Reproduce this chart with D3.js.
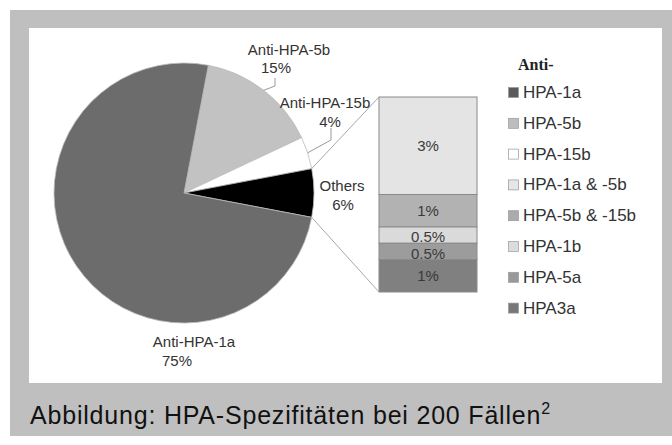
<!DOCTYPE html>
<html>
<head>
<meta charset="utf-8">
<script src="https://cdn.jsdelivr.net/npm/d3@7"></script>
<style>
  body { margin: 0; background: #fff; }
  text { font-family: "Liberation Sans", Arial, sans-serif; }
</style>
</head>
<body>
<div id="chart"></div>
<script>
// Pie slices (clockwise, starting next to the "Others" wedge)
const pieLabels = ["Anti-HPA-5b", "Anti-HPA-15b", "Others", "Anti-HPA-1a"];
const pieValues = [15, 4, 6, 75];
const pieColors = ["#c2c2c2", "#ffffff", "#000000", "#6c6c6c"];

// Breakdown of "Others" (top to bottom in the bar)
const barLabels = ["HPA-1a & -5b", "HPA-5b & -15b", "HPA-1b", "HPA-5a", "HPA3a"];
const barValues = [3, 1, 0.5, 0.5, 1];
const barTexts = ["3%", "1%", "0.5%", "0.5%", "1%"];
const barColors = ["#e4e4e4", "#b2b2b2", "#dadada", "#9c9c9c", "#808080"];

// Legend
const legendTitle = "Anti-";
const legendLabels = ["HPA-1a", "HPA-5b", "HPA-15b", "HPA-1a & -5b", "HPA-5b & -15b", "HPA-1b", "HPA-5a", "HPA3a"];
const legendColors = ["#5a5a5a", "#bdbdbd", "#ffffff", "#e6e6e6", "#ababab", "#dcdcdc", "#999999", "#777777"];

const caption = "Abbildung: HPA-Spezifitäten bei 200 Fällen";

const width = 672, height = 445;

const svg = d3.select("#chart").append("svg")
    .attr("width", width)
    .attr("height", height);

// frame
svg.append("rect").attr("x", 10).attr("y", 10).attr("width", 662).attr("height", 426).attr("fill", "#bfbfbf");
svg.append("rect").attr("x", 29).attr("y", 28).attr("width", 633).attr("height", 355).attr("fill", "#fff");

// pie setup
const cx = 184, cy = 193, r = 130;
const deg = Math.PI / 180;
const total = d3.sum(pieValues);
const othersIdx = pieLabels.indexOf("Others");
// rotate so the "Others" wedge is centred on 3 o'clock
const before = d3.sum(pieValues.slice(0, othersIdx)) + pieValues[othersIdx] / 2;
const start = 90 * deg - before / total * 2 * Math.PI;

const pie = d3.pie().sort(null).startAngle(start).endAngle(start + 2 * Math.PI);
const arcs = pie(pieValues);
const arc = d3.arc().innerRadius(0).outerRadius(r);

const g = svg.append("g").attr("transform", `translate(${cx},${cy})`);
g.selectAll("path")
    .data(arcs)
    .enter().append("path")
    .attr("d", arc)
    .attr("fill", (d, i) => pieColors[i])
    .attr("stroke", "#bbb")
    .attr("stroke-width", 0.8);

function edge(a, rad) {
    return [cx + rad * Math.sin(a), cy - rad * Math.cos(a)];
}

// stacked bar for "Others"
const barX = 379, barW = 98;
const y = d3.scaleLinear().domain([0, d3.sum(barValues)]).range([97, 292]);
const cum = d3.cumsum([0].concat(barValues));

svg.append("g").selectAll("rect")
    .data(barValues)
    .enter().append("rect")
    .attr("x", barX)
    .attr("y", (d, i) => y(cum[i]))
    .attr("width", barW)
    .attr("height", (d, i) => y(cum[i + 1]) - y(cum[i]))
    .attr("fill", (d, i) => barColors[i])
    .attr("stroke", "#8a8a8a")
    .attr("stroke-width", 1);

svg.append("g").selectAll("text")
    .data(barValues)
    .enter().append("text")
    .attr("x", barX + barW / 2)
    .attr("y", (d, i) => (y(cum[i]) + y(cum[i + 1])) / 2 + (d < 1 ? 2 : 0))
    .attr("dy", "0.35em")
    .attr("text-anchor", "middle")
    .style("font-size", "15px")
    .style("fill", "#3a3a3a")
    .text((d, i) => barTexts[i]);

// connector lines from the Others wedge to the bar
const oa = arcs[othersIdx];
const p1 = edge(oa.startAngle, r), p2 = edge(oa.endAngle, r);
svg.append("line").attr("x1", p1[0]).attr("y1", p1[1]).attr("x2", barX).attr("y2", y(0))
    .attr("stroke", "#a8a8a8").attr("stroke-width", 1);
svg.append("line").attr("x1", p2[0]).attr("y1", p2[1]).attr("x2", barX).attr("y2", y(d3.sum(barValues)))
    .attr("stroke", "#a8a8a8").attr("stroke-width", 1);

// leader lines for the small slices
const mid = d => (d.startAngle + d.endAngle) / 2;
const l5b = edge(mid(arcs[0]), r);
svg.append("polyline")
    .attr("points", [l5b, [275, 86], [275, 78]].map(p => p.join(",")).join(" "))
    .attr("fill", "none").attr("stroke", "#999").attr("stroke-width", 1);
const l15b = edge(mid(arcs[1]), r);
svg.append("polyline")
    .attr("points", [l15b, [331, 140], [331, 128]].map(p => p.join(",")).join(" "))
    .attr("fill", "none").attr("stroke", "#999").attr("stroke-width", 1);

// pie labels: [name x, name y, value x, value y]
const labelPos = [
    [289, 50, 276, 68],
    [325, 103, 330, 122],
    [342, 186, 343, 205],
    [194, 342, 177, 361]
];
const lab = svg.append("g").selectAll("g")
    .data(pieValues)
    .enter().append("g");
lab.append("text")
    .attr("x", (d, i) => labelPos[i][0])
    .attr("y", (d, i) => labelPos[i][1])
    .attr("dy", "0.35em")
    .attr("text-anchor", "middle")
    .style("font-size", "15px")
    .style("fill", "#333")
    .text((d, i) => pieLabels[i]);
lab.append("text")
    .attr("x", (d, i) => labelPos[i][2])
    .attr("y", (d, i) => labelPos[i][3])
    .attr("dy", "0.35em")
    .attr("text-anchor", "middle")
    .style("font-size", "15px")
    .style("fill", "#333")
    .text(d => d + "%");

// legend
svg.append("text")
    .attr("x", 518)
    .attr("y", 70)
    .style("font-family", "'Liberation Serif', 'Times New Roman', serif")
    .style("font-weight", "bold")
    .style("font-size", "16px")
    .style("fill", "#222")
    .text(legendTitle);

const legend = svg.append("g").selectAll("g")
    .data(legendLabels)
    .enter().append("g")
    .attr("transform", (d, i) => `translate(508, ${92 + i * 30.8})`);
legend.append("rect")
    .attr("x", 0.5)
    .attr("y", -4.5)
    .attr("width", 10)
    .attr("height", 10)
    .attr("fill", (d, i) => legendColors[i])
    .attr("stroke", "#999")
    .attr("stroke-width", 0.7);
legend.append("text")
    .attr("x", 15)
    .attr("y", 0)
    .attr("dy", "0.35em")
    .style("font-size", "17px")
    .style("fill", "#333")
    .text(d => d);

// caption
const cap = svg.append("text")
    .attr("x", 30)
    .attr("y", 424)
    .style("font-size", "25px")
    .style("letter-spacing", "0.8px")
    .style("fill", "#111")
    .text(caption);
cap.append("tspan")
    .attr("dy", -10)
    .style("font-size", "16px")
    .text("2");
</script>
</body>
</html>
